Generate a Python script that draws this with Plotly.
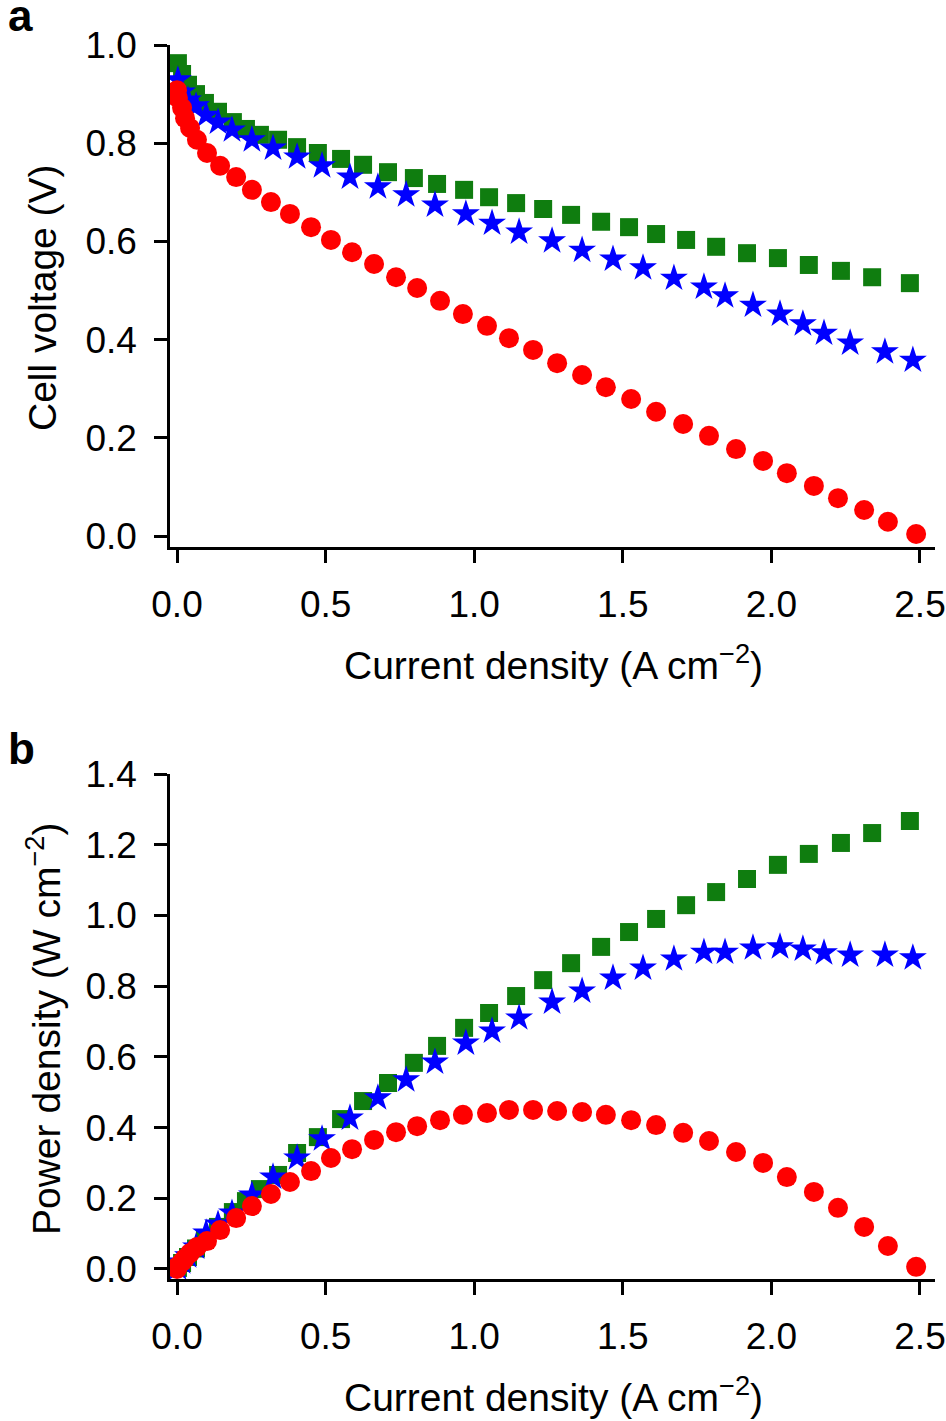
import plotly.graph_objects as go

# ---------------- Panel a: polarization curves ----------------
# Red circles
red_j = [0.000, 0.003, 0.017, 0.027, 0.044, 0.067, 0.101, 0.145, 0.199, 0.252,
         0.316, 0.380, 0.451, 0.518, 0.589, 0.663, 0.737, 0.808, 0.885, 0.962,
         1.043, 1.117, 1.198, 1.279, 1.363, 1.443, 1.528, 1.612, 1.703, 1.790,
         1.881, 1.972, 2.052, 2.143, 2.224, 2.312, 2.392, 2.487]
red_v = [0.908, 0.892, 0.872, 0.851, 0.831, 0.807, 0.780, 0.754, 0.731, 0.705,
         0.680, 0.656, 0.629, 0.603, 0.578, 0.554, 0.527, 0.505, 0.479, 0.452,
         0.428, 0.403, 0.379, 0.352, 0.328, 0.303, 0.279, 0.253, 0.228, 0.204,
         0.177, 0.153, 0.128, 0.102, 0.077, 0.053, 0.029, 0.004]
red_p = [0.000, 0.008, 0.020, 0.030, 0.045, 0.062, 0.079, 0.110, 0.144, 0.178,
         0.212, 0.246, 0.277, 0.314, 0.339, 0.365, 0.387, 0.404, 0.421, 0.436,
         0.441, 0.450, 0.450, 0.447, 0.444, 0.436, 0.421, 0.407, 0.385, 0.362,
         0.331, 0.300, 0.260, 0.218, 0.173, 0.119, 0.065, 0.006]

# Blue stars
blue_j = [0.003, 0.017, 0.037, 0.064, 0.098, 0.138, 0.185, 0.252, 0.323, 0.404,
          0.488, 0.582, 0.676, 0.771, 0.868, 0.972, 1.060, 1.151, 1.262, 1.363,
          1.467, 1.568, 1.672, 1.773, 1.844, 1.938, 2.029, 2.106, 2.177, 2.265,
          2.382, 2.476]
blue_v = [0.929, 0.904, 0.888, 0.876, 0.857, 0.843, 0.827, 0.807, 0.790, 0.772,
          0.754, 0.731, 0.711, 0.695, 0.674, 0.656, 0.637, 0.619, 0.601, 0.582,
          0.564, 0.546, 0.525, 0.507, 0.489, 0.470, 0.452, 0.432, 0.413, 0.393,
          0.375, 0.358]
blue_p = [0.003, 0.020, 0.037, 0.062, 0.102, 0.127, 0.158, 0.209, 0.260, 0.314,
          0.368, 0.427, 0.484, 0.535, 0.585, 0.639, 0.673, 0.710, 0.755, 0.786,
          0.823, 0.851, 0.877, 0.896, 0.896, 0.908, 0.911, 0.905, 0.894, 0.888,
          0.888, 0.880]

# Green squares
green_j = [0.003, 0.017, 0.037, 0.064, 0.094, 0.138, 0.188, 0.232, 0.279, 0.340,
           0.404, 0.474, 0.552, 0.626, 0.710, 0.797, 0.875, 0.966, 1.050, 1.141,
           1.232, 1.326, 1.427, 1.521, 1.612, 1.713, 1.814, 1.918, 2.022, 2.126,
           2.234, 2.339, 2.466]
green_v = [0.963, 0.941, 0.919, 0.900, 0.882, 0.864, 0.843, 0.829, 0.817, 0.807,
           0.792, 0.780, 0.768, 0.756, 0.741, 0.729, 0.717, 0.705, 0.690, 0.678,
           0.666, 0.654, 0.640, 0.629, 0.615, 0.603, 0.589, 0.576, 0.566, 0.552,
           0.540, 0.527, 0.515]
green_p = [0.003, 0.017, 0.034, 0.058, 0.082, 0.119, 0.161, 0.192, 0.226, 0.266,
           0.328, 0.373, 0.424, 0.475, 0.526, 0.583, 0.631, 0.682, 0.724, 0.772,
           0.817, 0.865, 0.911, 0.953, 0.990, 1.029, 1.066, 1.103, 1.143, 1.174,
           1.205, 1.233, 1.267]

x_ticks = [0.0, 0.5, 1.0, 1.5, 2.0, 2.5]
ya_ticks = [0.0, 0.2, 0.4, 0.6, 0.8, 1.0]
yb_ticks = [0.0, 0.2, 0.4, 0.6, 0.8, 1.0, 1.2, 1.4]

GREEN = "#0f7d0f"
BLUE = "#0000ff"
RED = "#ff0000"
FONT = "Liberation Sans, Arial, Helvetica, sans-serif"

fig = go.Figure()

def add_series(x, y, xa, ya, color, symbol, size):
    fig.add_trace(go.Scatter(
        x=x, y=y, mode="markers", xaxis=xa, yaxis=ya,
        marker=dict(color=color, symbol=symbol, size=size, line=dict(width=0)),
        showlegend=False, hoverinfo="x+y"))

add_series(green_j, green_v, "x", "y", GREEN, "square", 18)
add_series(blue_j, blue_v, "x", "y", BLUE, "star", 21)
add_series(red_j, red_v, "x", "y", RED, "circle", 20)
add_series(green_j, green_p, "x2", "y2", GREEN, "square", 18)
add_series(blue_j, blue_p, "x2", "y2", BLUE, "star", 21)
add_series(red_j, red_p, "x2", "y2", RED, "circle", 20)

W, H = 946, 1421

def px_x(p):
    return p / W

def px_y(p):
    return 1 - p / H

axis_common = dict(showline=True, linecolor="black", linewidth=2.5,
                   ticks="outside", ticklen=13, tickwidth=2.5, tickcolor="black",
                   showgrid=False, zeroline=False, automargin=False,
                   tickfont=dict(family=FONT, size=37, color="black"))

xrange = [-0.0236, 2.5505]
xdom = [px_x(170), px_x(935)]

fig.update_layout(
    template="none",
    width=W, height=H,
    margin=dict(l=0, r=0, t=0, b=0, pad=0, autoexpand=False),
    paper_bgcolor="white", plot_bgcolor="white",
    showlegend=False,
    xaxis=dict(domain=xdom, range=xrange, anchor="y",
               tickvals=x_ticks, ticktext=[f"{v:.1f}" for v in x_ticks],
               ticklabelstandoff=10, **axis_common),
    yaxis=dict(domain=[px_y(547), px_y(45)], range=[-0.0224, 1.0], anchor="x",
               tickvals=ya_ticks, ticktext=[f"{v:.1f}" for v in ya_ticks],
               ticklabelstandoff=10, **axis_common),
    xaxis2=dict(domain=xdom, range=xrange, anchor="y2",
                tickvals=x_ticks, ticktext=[f"{v:.1f}" for v in x_ticks],
                ticklabelstandoff=10, **axis_common),
    yaxis2=dict(domain=[px_y(1279), px_y(774)], range=[-0.0283, 1.4], anchor="x2",
                tickvals=yb_ticks, ticktext=[f"{v:.1f}" for v in yb_ticks],
                ticklabelstandoff=10, **axis_common),
)

title_font = dict(family=FONT, size=39, color="black")
xtitle = "Current density (A cm<sup>−2</sup>)"
annotations = [
    dict(text=xtitle, x=px_x(553), y=px_y(662), xref="paper", yref="paper",
         xanchor="center", yanchor="middle", showarrow=False, font=title_font),
    dict(text=xtitle, x=px_x(553), y=px_y(1394), xref="paper", yref="paper",
         xanchor="center", yanchor="middle", showarrow=False, font=title_font),
    dict(text="Cell voltage (V)", x=px_x(43), y=px_y(298), xref="paper", yref="paper",
         xanchor="center", yanchor="middle", textangle=-90, showarrow=False, font=title_font),
    dict(text="Power density (W cm<sup>−2</sup>)", x=px_x(43), y=px_y(1029),
         xref="paper", yref="paper", xanchor="center", yanchor="middle",
         textangle=-90, showarrow=False, font=title_font),
    dict(text="<b>a</b>", x=px_x(6), y=px_y(16), xref="paper", yref="paper",
         xanchor="left", yanchor="middle", showarrow=False,
         font=dict(family=FONT, size=44, color="black")),
    dict(text="<b>b</b>", x=px_x(6), y=px_y(748), xref="paper", yref="paper",
         xanchor="left", yanchor="middle", showarrow=False,
         font=dict(family=FONT, size=44, color="black")),
]
fig.update_layout(annotations=annotations)

fig.write_html("out.html", config={"displayModeBar": False},
               post_script="document.body.style.margin='0px';document.body.style.padding='0px';")
